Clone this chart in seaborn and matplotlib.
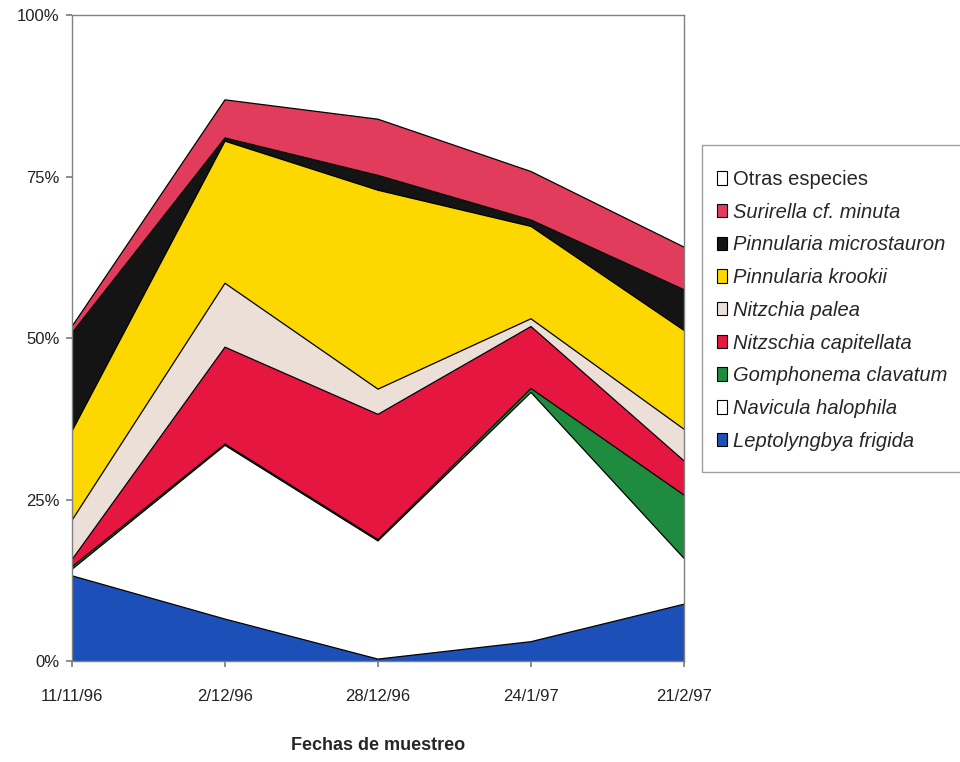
import matplotlib.pyplot as plt
import pandas as pd
import seaborn as sns
from matplotlib.patches import Patch, Rectangle
from matplotlib.ticker import PercentFormatter

sns.set_theme(style="white")
plt.rcParams['font.family'] = ['Liberation Sans', 'DejaVu Sans']

fechas = ['11/11/96', '2/12/96', '28/12/96', '24/1/97', '21/2/97']

# relative abundance (%) per species, bottom of the stack first
leptolyngbya = [13.2, 6.5, 0.3, 3.0, 8.8]
navicula = [1.0, 26.9, 18.3, 38.6, 7.1]
gomphonema = [0.4, 0.2, 0.2, 0.6, 9.8]
capitellata = [1.1, 15.0, 19.4, 9.6, 5.3]
palea = [6.1, 9.9, 3.9, 1.2, 4.9]
krookii = [13.8, 22.0, 30.8, 14.3, 15.3]
microstauron = [15.2, 0.5, 2.3, 1.0, 6.3]
surirella = [1.0, 5.9, 8.7, 7.5, 6.6]
otras = [48.2, 13.1, 16.1, 24.2, 35.9]

especies = ['Leptolyngbya frigida', 'Navicula halophila', 'Gomphonema clavatum',
            'Nitzschia capitellata', 'Nitzchia palea', 'Pinnularia krookii',
            'Pinnularia microstauron', 'Surirella cf. minuta', 'Otras especies']
colores = ['#1d4fb8', '#ffffff', '#1e8b3e', '#e5163f', '#ecdfd8', '#fdd800',
           '#141414', '#e23c5c', '#ffffff']

df = pd.DataFrame(dict(zip(especies, [leptolyngbya, navicula, gomphonema, capitellata,
                                      palea, krookii, microstauron, surirella, otras])),
                  index=fechas)
df['pos'] = range(len(fechas))

fig, ax = plt.subplots(figsize=(9.6, 7.62), dpi=100)
fig.subplots_adjust(left=0.075, right=0.7125, bottom=0.1325, top=0.98)

polys = ax.stackplot(df['pos'], *[df[s] for s in especies], colors=colores,
                     edgecolor='none', linewidth=0)

# black outlines between the layers
cum = df[especies[:-1]].cumsum(axis=1)
cum['pos'] = df['pos'].values
cum_long = cum.melt(id_vars='pos', var_name='especie', value_name='acum')
sns.lineplot(data=cum_long, x='pos', y='acum', units='especie', estimator=None,
             color='black', linewidth=0.9, legend=False, ax=ax)

ax.set_xlim(0, 4)
ax.set_ylim(0, 100)
ax.set_yticks([0, 25, 50, 75, 100])
ax.yaxis.set_major_formatter(PercentFormatter(decimals=0))
ax.set_xticks(range(len(fechas)))
ax.set_xticklabels(fechas, fontsize=12, color='#222222')
ax.tick_params(axis='x', bottom=True, direction='out', length=4, color='#808080', pad=16)
ax.tick_params(axis='y', left=True, direction='out', length=4, color='#808080', pad=5,
               labelsize=12, labelcolor='#222222')
for s in ax.spines.values():
    s.set_color('#808080')
    s.set_linewidth(1)
ax.set_ylabel('')
ax.set_xlabel('Fechas de muestreo', fontsize=13, fontweight='bold', labelpad=24)

handles = [Patch(facecolor=c, edgecolor='black', linewidth=0.8)
           for c in colores[::-1]]
leg = fig.legend(handles, especies[::-1], loc='upper left',
                 bbox_to_anchor=(707 / 960, 1 - 160 / 762), frameon=False,
                 fontsize=14.5, handlelength=0.5, handleheight=0.65,
                 handletextpad=0.3, labelspacing=0.68, borderpad=0)
for t in leg.get_texts()[1:]:
    t.set_fontstyle('italic')

fig.patches.append(Rectangle((702 / 960, 1 - 472 / 762), 0.3, (472 - 145) / 762,
                             transform=fig.transFigure, fill=False,
                             edgecolor='#a0a0a0', linewidth=1))

fig.savefig('out.png', dpi=100)
